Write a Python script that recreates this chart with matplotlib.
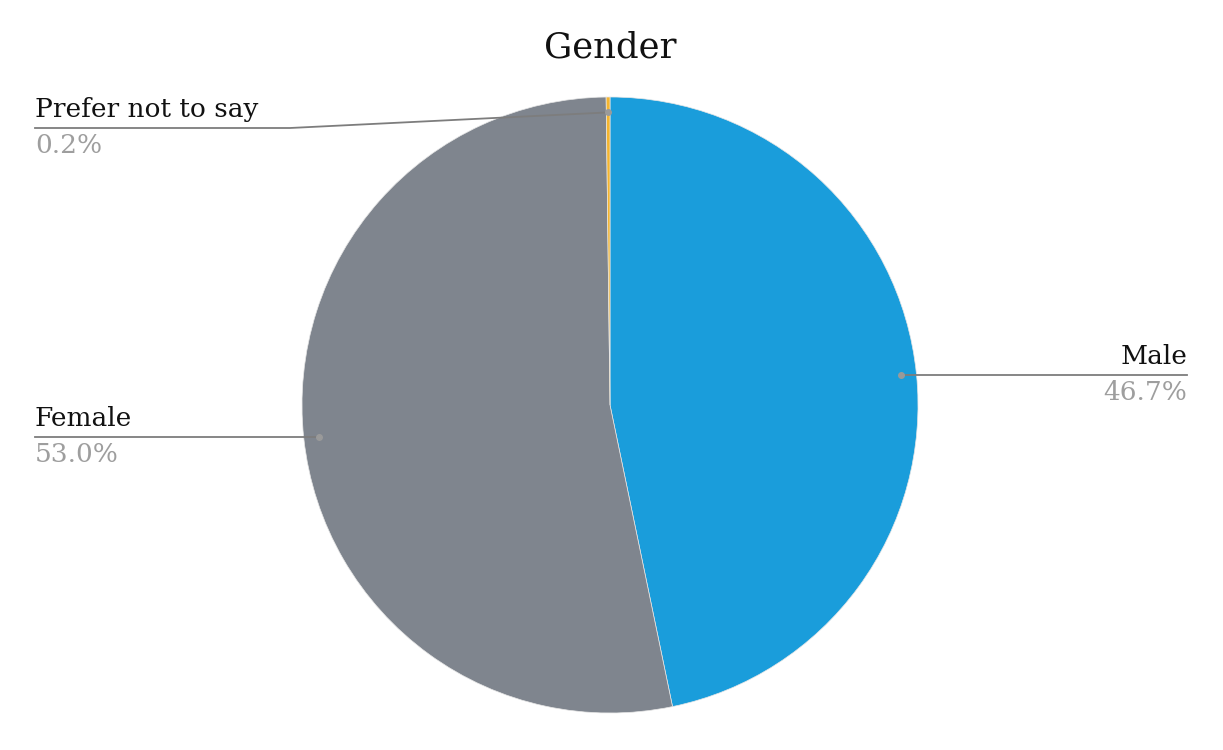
import numpy as np
import matplotlib.pyplot as plt

labels = ['Male', 'Female', 'Prefer not to say']
shares = [46.7, 53.0, 0.2]
colors = ['#1A9DDB', '#7F858E', '#F5B52E']

W, H = 1223, 750
fig = plt.figure(figsize=(W / 100, H / 100), dpi=100)
ax = fig.add_axes([0, 0, 1, 1])

cx, cy, rad = 610, H - 405, 308
wedges, _ = ax.pie(shares, startangle=90, counterclock=False, colors=colors,
                   center=(cx, cy), radius=rad,
                   wedgeprops=dict(linewidth=0.5, edgecolor='#e6e6e6'))
ax.set_xlim(0, W)
ax.set_ylim(0, H)
ax.set_aspect('equal')
ax.axis('off')

serif = 'DejaVu Serif'
ax.text(cx, H - 48, 'Gender', ha='center', va='center', fontsize=25.5,
        family=serif, color='#111111')

# leader line ends (pixel x, y from top) and text side
ends = {'Male': (1187, 375, 'right'),
        'Female': (35, 437, 'left'),
        'Prefer not to say': (35, 128, 'left')}

for w, lab, val in zip(wedges, labels, shares):
    mid = np.deg2rad((w.theta1 + w.theta2) / 2)
    px = cx + 0.95 * rad * np.cos(mid)
    py = cy + 0.95 * rad * np.sin(mid)
    ex, ey, side = ends[lab]
    ey = H - ey
    if abs(py - ey) > 3:
        ax.plot([px, 290, ex], [py, ey, ey], color='#7d7d7d', lw=1.3)
    else:
        py = ey
        ax.plot([px, ex], [ey, ey], color='#7d7d7d', lw=1.3)
    ax.plot([px], [py], 'o', ms=4, color='#9a9a9a')
    ax.text(ex, ey + 6, lab, ha=side, va='bottom', fontsize=19, family=serif,
            color='#111111')
    ax.text(ex, ey - 5, f'{val:.1f}%', ha=side, va='top', fontsize=19,
            family=serif, color='#9e9e9e')

fig.savefig('out.png', dpi=100)
